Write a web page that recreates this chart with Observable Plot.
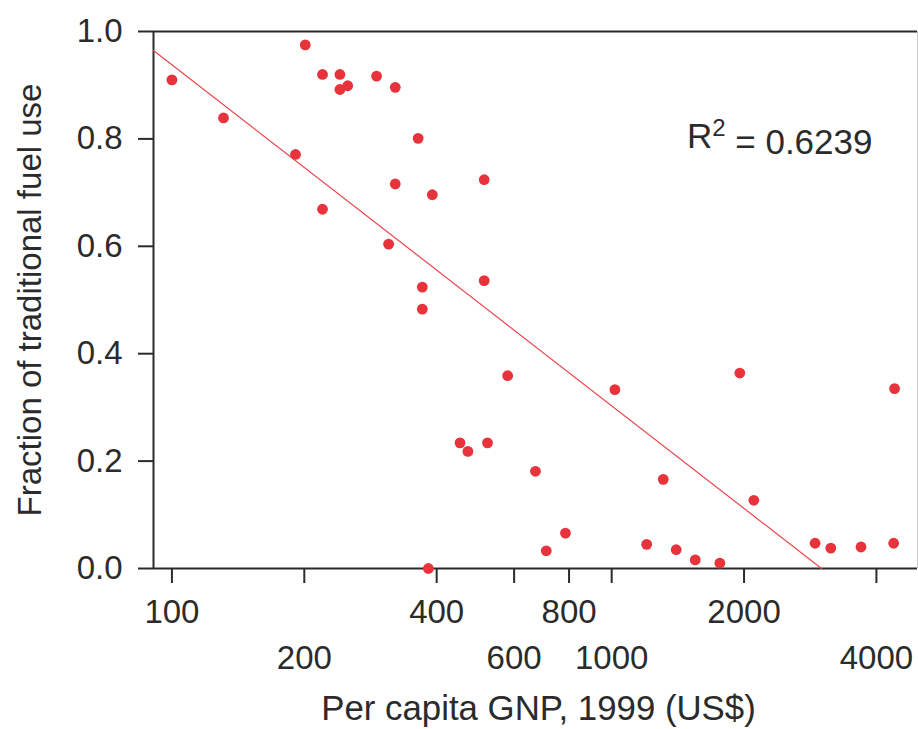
<!DOCTYPE html>
<html><head><meta charset="utf-8">
<script src="https://cdn.jsdelivr.net/npm/d3@7"></script>
<script src="https://cdn.jsdelivr.net/npm/@observablehq/plot@0.6"></script>
<style>body{margin:0;background:#fff}</style>
</head><body><div id="chart"></div>
<script>
// Per capita GNP, 1999 (US$) and fraction of traditional fuel use
const gnp  = [100, 131, 191, 201, 220, 220, 241, 241, 251, 292, 311, 322, 322, 363, 371, 371, 383, 391, 452, 471,
              513, 513, 522, 580, 671, 710, 785, 1017, 1201, 1310, 1402, 1549, 1762, 1956, 2105, 2901, 3150, 3690, 4378, 4399];
const fuel = [0.910, 0.839, 0.771, 0.975, 0.920, 0.669, 0.920, 0.892, 0.899, 0.917, 0.604, 0.896, 0.716, 0.801, 0.524, 0.483, 0.0, 0.696, 0.234, 0.218,
              0.724, 0.536, 0.234, 0.359, 0.181, 0.033, 0.066, 0.333, 0.045, 0.166, 0.035, 0.016, 0.010, 0.364, 0.127, 0.047, 0.038, 0.040, 0.047, 0.335];
const xTicksRow1 = [100, 400, 800, 2000];
const xTicksRow2 = [200, 600, 1000, 4000];
const yTicks = [0, 0.2, 0.4, 0.6, 0.8, 1.0];
const xDomain = [90.8, 4960];
const yDomain = [0, 1];
// fitted line: fuel = fitIntercept + fitSlope * log10(gnp)
const fitIntercept = 2.208;
const fitSlope = -0.635;
const r2Value = "0.6239";
const xLabel = "Per capita GNP, 1999 (US$)";
const yLabel = "Fraction of traditional fuel use";

const points = gnp.map((g, i) => ({gnp: g, fuel: fuel[i]}));
const fitEnd = Math.pow(10, -fitIntercept / fitSlope);
const fit = [xDomain[0], fitEnd].map(x => ({gnp: x, fuel: fitIntercept + fitSlope * Math.log10(x)}));

const ink = "#2b2b2b";
const chart = Plot.plot({
  width: 918, height: 729,
  marginLeft: 153, marginRight: 1, marginTop: 31, marginBottom: 161,
  style: {fontFamily: "'Liberation Sans', Arial, sans-serif", fontSize: "33px", color: ink, background: "#fff"},
  x: {type: "log", domain: xDomain},
  y: {domain: yDomain},
  marks: [
    Plot.ruleX([xDomain[1]], {stroke: "#cfcfcf", strokeWidth: 1}),
    Plot.ruleY([yDomain[1]], {stroke: ink, strokeWidth: 2}),
    Plot.ruleY([yDomain[0]], {stroke: ink, strokeWidth: 2}),
    Plot.ruleX([xDomain[0]], {stroke: ink, strokeWidth: 2}),
    Plot.axisY({ticks: yTicks, tickFormat: d3.format(".1f"), tickSize: 15, tickPadding: 16, strokeWidth: 2, stroke: ink,
      fontSize: 33, label: yLabel, labelAnchor: "center", labelArrow: "none", labelOffset: 136}),
    Plot.axisX({ticks: [...xTicksRow1, ...xTicksRow2], tickSize: 15, tickFormat: () => "", strokeWidth: 2, stroke: ink, label: null}),
    Plot.text(xTicksRow1, {x: d => d, text: d => String(d), frameAnchor: "bottom", lineAnchor: "top", dy: 31, fontSize: 33, fill: ink}),
    Plot.text(xTicksRow2, {x: d => d, text: d => String(d), frameAnchor: "bottom", lineAnchor: "top", dy: 77, fontSize: 33, fill: ink}),
    Plot.text([xLabel], {frameAnchor: "bottom", lineAnchor: "top", dy: 127, fontSize: 34.8, fill: ink, dx: 3}),
    Plot.line(fit, {x: "gnp", y: "fuel", stroke: "#e8474d", strokeWidth: 1.2}),
    Plot.dot(points, {x: "gnp", y: "fuel", r: 5.4, fill: "#e8333d", stroke: "none"}),
    Plot.text(["R2 = " + r2Value], {frameAnchor: "top-right", textAnchor: "end", lineAnchor: "top", dx: -45, dy: 92, fontSize: 35, fill: ink})
  ]
});
chart.querySelectorAll("text").forEach(t => {
  if (t.textContent === "R2 = " + r2Value) {
    const target = t.querySelector("tspan") || t;
    const ns = "http://www.w3.org/2000/svg";
    while (target.firstChild) target.removeChild(target.firstChild);
    const a = document.createElementNS(ns, "tspan"); a.textContent = "R";
    const b = document.createElementNS(ns, "tspan"); b.textContent = "2"; b.setAttribute("font-size", "24"); b.setAttribute("dy", "-0.5em");
    const c = document.createElementNS(ns, "tspan"); c.textContent = " = " + r2Value; c.setAttribute("dy", "0.5em"); c.setAttribute("font-size", "35");
    target.append(a, b, c);
  }
});
document.getElementById("chart").append(chart);
</script>
</body></html>
